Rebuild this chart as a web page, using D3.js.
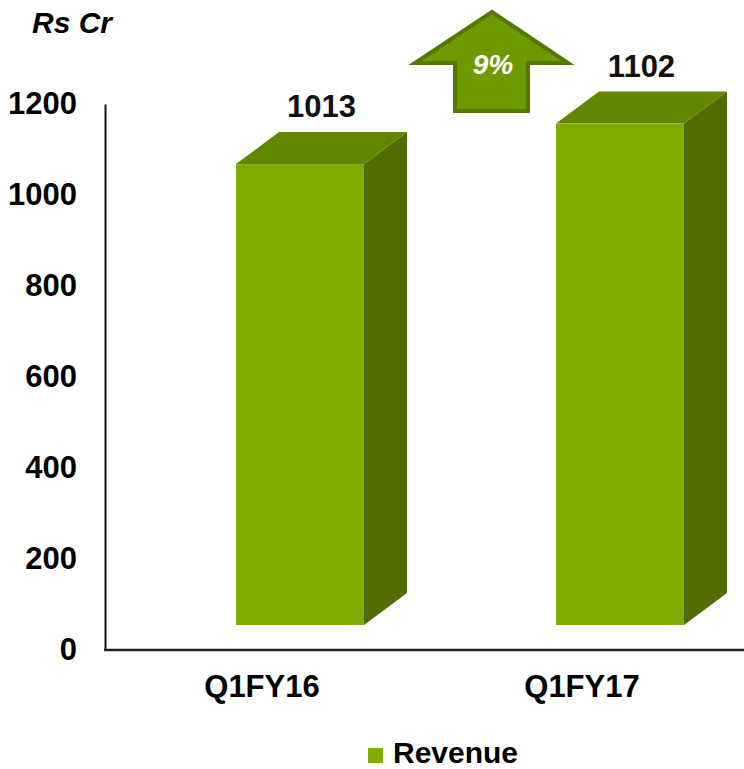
<!DOCTYPE html>
<html>
<head>
<meta charset="utf-8">
<script src="https://cdn.jsdelivr.net/npm/d3@7"></script>
<style>
  html, body { margin:0; padding:0; background:#fff; }
  svg text { font-family: "Liberation Sans", Arial, sans-serif; font-weight:bold; }
</style>
</head>
<body>
<div id="chart"></div>
<script>
// Revenue, Rs Cr — 3D column chart
const categories = ['Q1FY16', 'Q1FY17'];
const revenue = [1013, 1102];
const yTicks = [0, 200, 400, 600, 800, 1000, 1200];
const seriesName = 'Revenue';
const unitLabel = 'Rs Cr';

const width = 744, height = 769;
const svg = d3.select('#chart').append('svg').attr('width', width).attr('height', height);

// colours
const cFront = '#80ac00', cTop = '#618700', cSide = '#516c00';

// axis plane scales
const x = d3.scaleBand().domain(categories).range([105, 745]).paddingInner(0).paddingOuter(0);
const y = d3.scaleLinear().domain([0, 1200]).range([650, 104]);

// 3d offsets: front face sits behind the axis plane, depth goes up-right
const front = {dx: 35, dy: -25};
const depth = {dx: 43, dy: -32};
const barW = x.bandwidth() * 0.4;

// axes
const yAxis = d3.axisLeft(y).tickValues(yTicks).tickFormat(d3.format('d')).tickSize(0).tickPadding(28);
svg.append('g').attr('transform', 'translate(105,0)').call(yAxis)
  .call(g => g.select('.domain').attr('stroke', '#111').attr('stroke-width', 2))
  .call(g => g.selectAll('text').attr('font-size', 31).attr('fill', '#000')
    .attr('font-family', '"Liberation Sans", Arial, sans-serif').attr('font-weight', 'bold'));

svg.append('line').attr('x1', 104).attr('x2', 744).attr('y1', y(0)).attr('y2', y(0))
  .attr('stroke', '#222').attr('stroke-width', 2.5);

svg.selectAll('text.cat').data(categories).enter().append('text').attr('class', 'cat')
  .attr('x', d => x(d) + x.bandwidth() / 2 - 3).attr('y', 697)
  .attr('text-anchor', 'middle').attr('font-size', 31).text(d => d);

// bars
const bars = svg.selectAll('g.bar').data(categories.map((c, i) => ({c, v: revenue[i]})))
  .enter().append('g').attr('class', 'bar');

bars.each(function(d){
  const g = d3.select(this);
  const x0 = x(d.c) + x.bandwidth() / 2 - barW / 2 + front.dx;
  const x1 = x0 + barW;
  const yb = y(0) + front.dy;
  const yt = y(d.v) + front.dy;
  // side
  g.append('path').attr('fill', cSide)
    .attr('d', `M${x1},${yt} L${x1 + depth.dx},${yt + depth.dy} L${x1 + depth.dx},${yb + depth.dy} L${x1},${yb} Z`);
  // top
  g.append('path').attr('fill', cTop)
    .attr('d', `M${x0},${yt} L${x0 + depth.dx},${yt + depth.dy} L${x1 + depth.dx},${yt + depth.dy} L${x1},${yt} Z`);
  // front
  g.append('rect').attr('x', x0).attr('y', yt).attr('width', barW).attr('height', yb - yt).attr('fill', cFront);
  // value label
  g.append('text').attr('x', x0 + barW / 2 + depth.dx / 2).attr('y', yt + depth.dy - 15)
    .attr('text-anchor', 'middle').attr('font-size', 31).attr('fill', '#111').text(d.v);
});

// growth arrow
const growth = Math.round((revenue[1] / revenue[0] - 1) * 100);
const arrow = [[492, 12], [568, 63], [528, 63], [528, 111], [455, 111], [455, 63], [415, 63]];
svg.append('path').attr('d', d3.line()(arrow) + 'Z')
  .attr('fill', '#6e9a00').attr('stroke', '#557800').attr('stroke-width', 4).attr('stroke-linejoin', 'miter');
svg.append('text').attr('x', 493).attr('y', 74).attr('text-anchor', 'middle')
  .attr('font-size', 28).attr('font-style', 'italic').attr('fill', '#fff').text(growth + '%');

// unit label
svg.append('text').attr('x', 32).attr('y', 33).attr('font-size', 30).attr('font-style', 'italic').text(unitLabel);

// legend
svg.append('rect').attr('x', 368).attr('y', 748).attr('width', 15).attr('height', 15).attr('fill', cFront);
svg.append('text').attr('x', 393).attr('y', 763).attr('font-size', 30).text(seriesName);
</script>
</body>
</html>
